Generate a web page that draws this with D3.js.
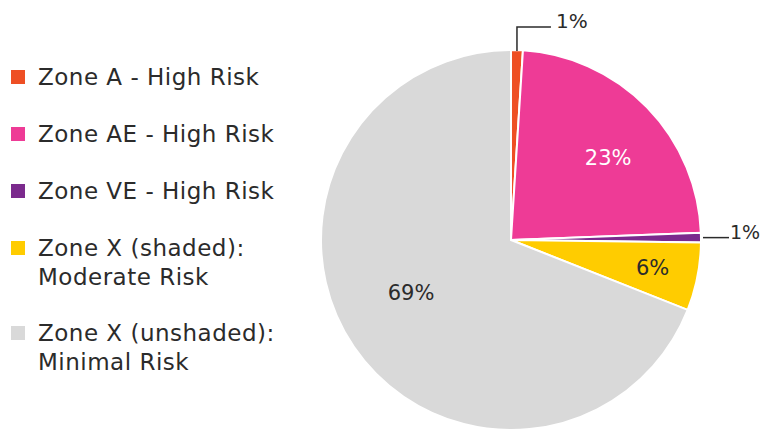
<!DOCTYPE html>
<html>
<head>
<meta charset="utf-8">
<script src="https://cdn.jsdelivr.net/npm/d3@7"></script>
<style>
  body { margin: 0; background: #fff; }
  svg text { font-family: "DejaVu Sans", sans-serif; fill: #2b2b2b; }
</style>
</head>
<body>
<div id="chart"></div>
<script>
// Data
var zones = ["Zone A - High Risk", "Zone AE - High Risk", "Zone VE - High Risk",
             "Zone X (shaded): Moderate Risk", "Zone X (unshaded): Minimal Risk"];
var legendLines = [["Zone A - High Risk"], ["Zone AE - High Risk"], ["Zone VE - High Risk"],
                   ["Zone X (shaded):", "Moderate Risk"], ["Zone X (unshaded):", "Minimal Risk"]];
var shares = [1.0, 23.4, 0.8, 5.8, 69.0];
var pctLabels = ["1%", "23%", "1%", "6%", "69%"];
var colors = ["#ee4f24", "#ee3b96", "#7b2a8d", "#ffcc00", "#d9d9d9"];

var width = 761, height = 430;
var cx = 511, cy = 240, radius = 190;

var svg = d3.select("#chart").append("svg")
  .attr("width", width)
  .attr("height", height);

// Pie, clockwise from 12 o'clock
var pie = d3.pie().sort(null).value(function(d) { return d; });
var arc = d3.arc().innerRadius(0).outerRadius(radius);
var arcs = pie(shares);

var g = svg.append("g").attr("transform", "translate(" + cx + "," + cy + ")");

g.selectAll("path")
  .data(arcs)
  .enter()
  .append("path")
  .attr("d", arc)
  .attr("fill", function(d, i) { return colors[i]; })
  .attr("stroke", "#fff")
  .attr("stroke-width", 2);

// point at a fraction of the radius, with a small angle nudge (degrees)
function polar(a, r, nudge) {
  var mid = (a.startAngle + a.endAngle) / 2 + (nudge || 0) * Math.PI / 180;
  return [Math.sin(mid) * r, -Math.cos(mid) * r];
}

// labels inside the big slices
var inside = [
  { i: 1, r: 0.67, nudge: 4, fill: "#fff" },
  { i: 3, r: 0.76, nudge: 0, fill: "#2b2b2b" },
  { i: 4, r: 0.595, nudge: 6.3, fill: "#2b2b2b" }
];
inside.forEach(function(o) {
  var p = polar(arcs[o.i], radius * o.r, o.nudge);
  g.append("text")
    .attr("x", p[0]).attr("y", p[1])
    .attr("text-anchor", "middle")
    .attr("dominant-baseline", "central")
    .style("font-size", "21px")
    .style("fill", o.fill)
    .text(pctLabels[o.i]);
});

// callouts for the thin slices
// Zone A: up then right
var pA = polar(arcs[0], radius);
g.append("path")
  .attr("d", "M" + pA[0] + "," + (pA[1] + 1) + "V" + (pA[1] - 23) + "H" + (pA[0] + 34))
  .attr("fill", "none").attr("stroke", "#2b2b2b").attr("stroke-width", 1.5);
g.append("text")
  .attr("x", pA[0] + 39).attr("y", pA[1] - 22)
  .style("font-size", "20px")
  .text(pctLabels[0]);

// Zone VE: straight right
var pV = polar(arcs[2], radius);
g.append("path")
  .attr("d", "M" + (pV[0] + 2) + "," + pV[1] + "H" + (pV[0] + 28))
  .attr("fill", "none").attr("stroke", "#2b2b2b").attr("stroke-width", 1.5);
g.append("text")
  .attr("x", pV[0] + 29).attr("y", pV[1] + 1)
  .style("font-size", "19px")
  .text(pctLabels[2]);

// Legend
var legendTops = [70, 127, 184, 241, 326];
var legend = svg.append("g");
legendLines.forEach(function(lines, i) {
  legend.append("rect")
    .attr("x", 11).attr("y", legendTops[i])
    .attr("width", 14).attr("height", 14)
    .attr("fill", colors[i]);
  lines.forEach(function(line, j) {
    legend.append("text")
      .attr("x", 38)
      .attr("y", legendTops[i] + 14.5 + j * 29)
      .style("font-size", "23px")
      .style("letter-spacing", "0.5px")
      .text(line);
  });
});
</script>
</body>
</html>
